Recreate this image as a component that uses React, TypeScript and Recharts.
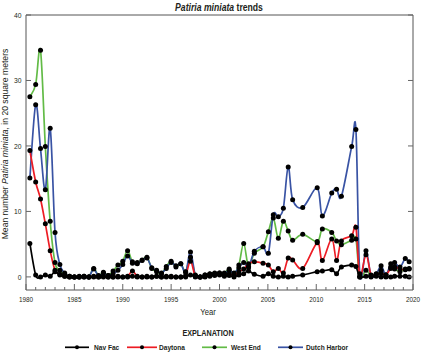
import React from 'react';
import { LineChart, Line, XAxis, YAxis } from 'recharts';

const FONT = '"Liberation Sans", Arial, sans-serif';

const surveyYears = [
  1980.4, 1981.0, 1981.5, 1982.0, 1982.5, 1983.0, 1983.5, 1984.0, 1984.5, 1985.0,
  1985.5, 1986.0, 1986.5, 1987.0, 1987.5, 1988.0, 1988.5, 1989.0, 1989.5, 1990.0,
  1990.5, 1991.0, 1991.5, 1992.0, 1992.5, 1993.0, 1993.5, 1994.0, 1994.5, 1995.0,
  1995.5, 1996.0, 1996.5, 1997.0, 1997.5, 1998.0, 1998.5, 1999.0, 1999.5, 2000.0,
  2000.5, 2001.0, 2001.5, 2002.0, 2002.5, 2003.0, 2003.6, 2004.5, 2005.05, 2005.56,
  2006.08, 2006.6, 2007.1, 2007.56, 2008.6, 2010.1, 2010.63, 2011.6, 2012.1, 2012.6,
  2013.66, 2014.1, 2014.5, 2015.14, 2015.66, 2016.2, 2016.7, 2017.2, 2017.7, 2018.1,
  2018.65, 2019.2, 2019.6,
];

const navFac = [
  5.1, 0.3, 0.0, 0.3, 0.1, 0.8, 0.3, 0.1, 0.0, 0.0,
  0.0, 0.1, 0.0, 0.0, 0.0, 0.1, 0.0, 0.0, 0.0, 0.0,
  0.0, 0.1, 0.0, 0.0, 0.1, 0.0, 0.1, 0.0, 0.1, 0.0,
  0.0, 0.0, 0.0, 0.3, 0.0, 0.0, 0.0, 0.1, 0.2, 0.3,
  0.1, 0.2, 0.0, 0.3, 0.5, 0.9, 0.4, 0.1, 0.5, 0.1,
  0.0, 0.1, 0.0, 0.1, 0.3, 0.8, 0.9, 1.1, 0.5, 1.5,
  1.8, 1.6, 0.0, 0.1, 0.0, 0.1, 0.0, 0.0, 0.0, 0.1,
  0.1, 0.1, 0.0,
];

const daytona = [
  19.3, 14.5, 11.9, 8.1, 4.0, 1.0, 0.4, 0.1, 0.0, 0.0,
  0.0, 0.0, 0.0, 0.1, 0.0, 0.0, 0.0, 0.0, 0.1, 0.0,
  0.1, 0.9, 0.1, 0.0, 0.0, 0.0, 0.1, 0.0, 0.0, 0.1,
  0.0, 0.0, 0.2, 2.4, 0.1, 0.0, 0.1, 0.4, 0.5, 0.4,
  0.3, 0.5, 0.2, 0.8, 1.2, 2.0, 2.3, 2.1, 1.8, 0.8,
  1.3, 0.6, 2.9, 2.6, 1.3, 5.2, 2.5, 5.8, 2.5, 5.5,
  6.3, 7.6, 0.1, 3.4, 0.3, 0.4, 0.6, 0.3, 1.3, 1.6,
  1.2, 1.1, 1.2,
];

const westEnd = [
  27.5, 29.4, 34.6, 19.9, 8.5, 2.2, 1.0, 0.4, 0.1, 0.0,
  0.0, 0.1, 0.0, 1.3, 0.2, 0.7, 0.2, 0.9, 1.8, 2.4,
  4.0, 2.3, 2.2, 2.6, 3.0, 1.3, 0.8, 0.5, 1.6, 2.4,
  1.5, 2.0, 0.8, 3.0, 0.3, 0.0, 0.3, 0.5, 0.6, 0.6,
  0.6, 1.2, 0.5, 1.8, 5.1, 1.6, 3.6, 4.6, 6.9, 9.0,
  5.9, 8.5, 7.0, 5.6, 6.5, 5.4, 7.3, 6.8, 5.5, 4.9,
  5.6, 5.8, 0.0, 1.0, 0.2, 0.5, 1.0, 0.3, 1.5, 1.2,
  0.8, 1.2, 1.3,
];

const dutchHarbor = [
  15.1, 26.3, 19.6, 13.3, 22.7, 6.8, 1.9, 0.6, 0.1, 0.0,
  0.1, 0.0, 0.0, 1.2, 0.1, 0.6, 0.2, 0.5, 1.0, 1.9,
  3.2, 2.1, 2.0, 2.5, 2.9, 1.4, 1.0, 0.6, 1.3, 2.2,
  1.7, 2.0, 0.7, 3.8, 0.2, 0.0, 0.3, 0.4, 0.5, 0.6,
  0.5, 1.0, 0.6, 1.4, 2.2, 1.4, 3.9, 4.6, 3.6, 9.5,
  9.2, 10.5, 16.8, 11.8, 10.6, 13.6, 9.3, 12.8, 13.4, 12.3,
  19.9, 22.5, 0.5, 4.0, 0.2, 0.4, 1.7, 0.3, 2.0, 2.2,
  1.5, 2.8, 2.3,
];

const seriesNames = ['Nav Fac', 'Daytona', 'West End', 'Dutch Harbor'];
const seriesKeys = ['navFac', 'daytona', 'westEnd', 'dutchHarbor'];
const seriesColors = ['#000000', '#ed1c24', '#62bb46', '#3953a4'];

const xYearTicks = [
  1980, 1981, 1982, 1983, 1984, 1985, 1986, 1987, 1988, 1989, 1990, 1991, 1992, 1993,
  1994, 1995, 1996, 1997, 1998, 1999, 2000, 2001, 2002, 2003, 2004, 2005, 2006, 2007,
  2008, 2009, 2010, 2011, 2012, 2013, 2014, 2015, 2016, 2017, 2018, 2019, 2020,
];
const yTicks = [0, 10, 20, 30, 40];

const data = surveyYears.map((year, i) => ({
  year,
  navFac: navFac[i],
  daytona: daytona[i],
  westEnd: westEnd[i],
  dutchHarbor: dutchHarbor[i],
}));

// Catmull-Rom (cardinal, tension 0) curve factory
function catmullRom(context: any) {
  let xs: number[] = [];
  let ys: number[] = [];
  return {
    areaStart() {},
    areaEnd() {},
    lineStart() {
      xs = [];
      ys = [];
    },
    point(x: number, y: number) {
      xs.push(+x);
      ys.push(+y);
    },
    lineEnd() {
      const n = xs.length;
      if (n === 0) return;
      context.moveTo(xs[0], ys[0]);
      for (let i = 0; i < n - 1; i++) {
        const a = Math.max(i - 1, 0);
        const d = Math.min(i + 2, n - 1);
        context.bezierCurveTo(
          xs[i] + (xs[i + 1] - xs[a]) / 6,
          ys[i] + (ys[i + 1] - ys[a]) / 6,
          xs[i + 1] - (xs[d] - xs[i]) / 6,
          ys[i + 1] - (ys[d] - ys[i]) / 6,
          xs[i + 1],
          ys[i + 1]
        );
      }
    },
  };
}

const AXIS_COLOR = '#555';
const TICK_COLOR = '#666';
const TEXT_COLOR = '#231f20';
const W = 422;
const H = 353;

const drawOrder = [2, 3, 1, 0];

const isMajor = (v: number) => v % 5 === 0;

const BottomTick = (props: any) => {
  const { x, y, payload } = props;
  const v = payload.value;
  const len = isMajor(v) ? 6 : 3;
  return (
    <g>
      <line x1={x} x2={x} y1={y} y2={y - len} stroke={TICK_COLOR} strokeWidth={1} />
      {isMajor(v) && (
        <text
          transform={`translate(${x},${y + 11.5}) scale(0.85,1)`}
          textAnchor="middle"
          fontSize={7.5}
          fontFamily={FONT}
          fill={TEXT_COLOR}
        >
          {v}
        </text>
      )}
    </g>
  );
};

const TopTick = (props: any) => {
  const { x, y, payload } = props;
  const len = isMajor(payload.value) ? 6 : 3;
  return <line x1={x} x2={x} y1={y} y2={y + len} stroke={TICK_COLOR} strokeWidth={1} />;
};

const LeftTick = (props: any) => {
  const { x, y, payload } = props;
  return (
    <g>
      <line x1={x} x2={x + 5} y1={y} y2={y} stroke={TICK_COLOR} strokeWidth={1} />
      <text
        transform={`translate(${x - 4.5},${y + 2.6}) scale(0.9,1)`}
        textAnchor="end"
        fontSize={7.5}
        fontFamily={FONT}
        fill={TEXT_COLOR}
      >
        {payload.value}
      </text>
    </g>
  );
};

const RightTick = (props: any) => {
  const { x, y } = props;
  return <line x1={x} x2={x - 5} y1={y} y2={y} stroke={TICK_COLOR} strokeWidth={1} />;
};

export default function App() {
  const legendItems = [
    { x: 65, w: 24, tx: 94 },
    { x: 127, w: 30, tx: 159 },
    { x: 202, w: 25, tx: 231 },
    { x: 278, w: 25, tx: 306 },
  ];
  return (
    <div style={{ position: 'absolute', left: 0, top: 0, width: W, height: H, background: '#fff' }}>
      <LineChart
        width={W}
        height={H}
        data={data}
        margin={{ top: 14, right: 8, bottom: 43, left: 0 }}
      >
        <XAxis
          xAxisId="main"
          dataKey="year"
          type="number"
          domain={[1980, 2020]}
          ticks={xYearTicks}
          allowDataOverflow
          height={20}
          tickSize={0}
          tickMargin={0}
          tickLine={false}
          interval={0}
          stroke={AXIS_COLOR}
          tick={<BottomTick />}
        />
        <XAxis
          xAxisId="top"
          orientation="top"
          type="number"
          domain={[1980, 2020]}
          ticks={xYearTicks}
          allowDataOverflow
          height={1}
          tickSize={0}
          tickMargin={0}
          tickLine={false}
          interval={0}
          stroke={AXIS_COLOR}
          tick={<TopTick />}
        />
        <YAxis
          yAxisId="main"
          type="number"
          domain={[-2, 40]}
          ticks={yTicks}
          allowDataOverflow
          width={26}
          tickSize={0}
          tickMargin={0}
          tickLine={false}
          interval={0}
          stroke={AXIS_COLOR}
          tick={<LeftTick />}
        />
        <YAxis
          yAxisId="right"
          orientation="right"
          type="number"
          domain={[-2, 40]}
          ticks={yTicks}
          allowDataOverflow
          width={1}
          tickSize={0}
          tickMargin={0}
          tickLine={false}
          interval={0}
          stroke={AXIS_COLOR}
          tick={<RightTick />}
        />
        {drawOrder.map((i) => (
          <Line
            key={seriesKeys[i]}
            xAxisId="main"
            yAxisId="main"
            dataKey={seriesKeys[i]}
            name={seriesNames[i]}
            type={catmullRom as any}
            stroke={seriesColors[i]}
            strokeWidth={1.7}
            dot={{ r: 2.5, fill: '#000', stroke: '#000', strokeWidth: 0 }}
            activeDot={false}
            isAnimationActive={false}
          />
        ))}
      </LineChart>
      <svg
        width={W}
        height={H}
        style={{ position: 'absolute', left: 0, top: 0, pointerEvents: 'none' }}
        fontFamily={FONT}
      >
        <text
          transform="translate(219,10.5) scale(0.865,1)"
          textAnchor="middle"
          fontSize={10}
          fontWeight="bold"
          fill={TEXT_COLOR}
        >
          <tspan fontStyle="italic">Patiria miniata</tspan>
          <tspan> trends</tspan>
        </text>
        <text
          transform="translate(8.3,144) rotate(-90)"
          textAnchor="middle"
          fontSize={8.6}
          fill={TEXT_COLOR}
        >
          <tspan>Mean number </tspan>
          <tspan fontStyle="italic">Patiria miniata</tspan>
          <tspan>, in 20 square meters</tspan>
        </text>
        <text
          transform="translate(208,315) scale(0.9,1)"
          textAnchor="middle"
          fontSize={8.5}
          fill={TEXT_COLOR}
        >
          Year
        </text>
        <text
          transform="translate(208,336) scale(0.85,1)"
          textAnchor="middle"
          fontSize={8.5}
          fontWeight="bold"
          fill={TEXT_COLOR}
        >
          EXPLANATION
        </text>
        {legendItems.map((it, i) => (
          <g key={seriesNames[i]}>
            <line
              x1={it.x}
              x2={it.x + it.w}
              y1={347.3}
              y2={347.3}
              stroke={seriesColors[i]}
              strokeWidth={1.7}
            />
            <circle cx={it.x + it.w / 2} cy={347.3} r={2} fill="#000" />
            <text
              transform={`translate(${it.tx},350) scale(0.88,1)`}
              fontSize={7.5}
              fontWeight="bold"
              fill={TEXT_COLOR}
            >
              {seriesNames[i]}
            </text>
          </g>
        ))}
      </svg>
    </div>
  );
}
